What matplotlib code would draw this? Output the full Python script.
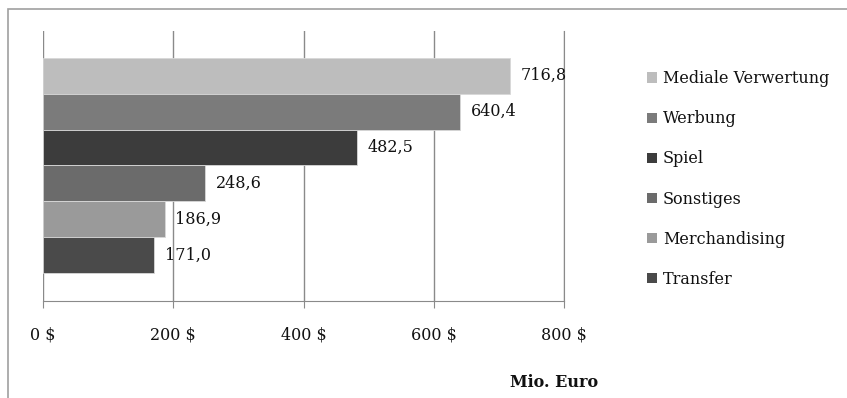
import matplotlib.pyplot as plt
from matplotlib.patches import Rectangle, Patch

# === Data ===
categories = ["Mediale Verwertung", "Werbung", "Spiel", "Sonstiges", "Merchandising", "Transfer"]
values = [716.8, 640.4, 482.5, 248.6, 186.9, 171.0]
value_labels = ["716,8", "640,4", "482,5", "248,6", "186,9", "171,0"]
colors = ["#bdbdbd", "#7b7b7b", "#3c3c3c", "#6b6b6b", "#9a9a9a", "#4a4a4a"]
xticks = [0, 200, 400, 600, 800]
xtick_labels = ["0 $", "200 $", "400 $", "600 $", "800 $"]

plt.rcParams['font.family'] = ['DejaVu Serif']
txt_color = "#111111"

fig = plt.figure(figsize=(8.47, 3.98), dpi=100)
ax = fig.add_axes([0.0508, 0.2437, 0.6155, 0.6785])

# outer chart frame (only top and left edges are inside the picture)
fig.patches.append(Rectangle((8 / 847, -0.1), 1.1, 1.1 - 9 / 398, transform=fig.transFigure,
                             fill=False, edgecolor="#a0a0a0", linewidth=1.2))

positions = list(range(len(values)))
ax.barh(positions, values, height=1.0, color=colors, edgecolor="#d8d8d8", linewidth=0.6, zorder=2)

for p, v, lab in zip(positions, values, value_labels):
    ax.text(v + 16, p, lab, va="center", ha="left", fontsize=11.5, color=txt_color, zorder=3)

ax.set_xlim(0, 800)
ax.set_ylim(6.28, -1.25)
ax.set_xticks(xticks)
ax.set_xticklabels(xtick_labels, fontsize=11.5, color=txt_color)
ax.set_yticks([])
ax.grid(axis="x", color="#8a8a8a", linewidth=1.0, zorder=1)
for s in ["top", "left"]:
    ax.spines[s].set_visible(False)
ax.spines["right"].set_color("#8a8a8a")
ax.spines["bottom"].set_color("#8a8a8a")
ax.tick_params(axis="x", direction="out", length=5, color="#8a8a8a", pad=13)

ax.set_xlabel("Mio. Euro", fontsize=11.5, fontweight="bold", color=txt_color)
ax.xaxis.set_label_coords(0.98, -0.27)

handles = [Patch(facecolor=c, edgecolor="none") for c in colors]
fig.legend(handles, categories, loc="upper left", bbox_to_anchor=(0.747, 0.86),
           frameon=False, fontsize=11.5, handlelength=0.6, handleheight=0.6,
           handletextpad=0.4, labelspacing=1.45, labelcolor=txt_color)

plt.savefig("out.png", dpi=100)
